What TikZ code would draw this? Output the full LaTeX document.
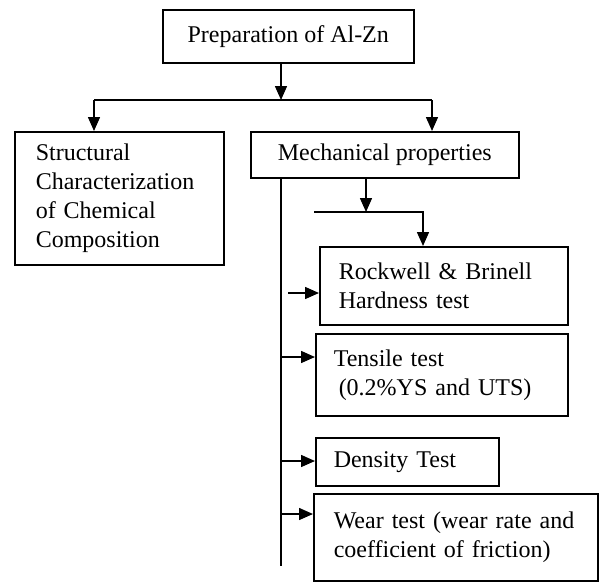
\documentclass[tikz,border=0pt]{standalone}
\usepackage{fontspec}
\setmainfont{Liberation Serif}
\usetikzlibrary{arrows.meta}
\begin{document}
\begin{tikzpicture}[x=1pt,y=-1pt]
\tikzset{
  box/.style={draw, line width=1.5pt, inner ysep=0pt, anchor=north west, font=\fontsize{24}{29}\selectfont},
  lbox/.style={box, align=left},
  arr/.style={-{Triangle[length=14pt,width=12pt]}, line width=1.5pt},
  ln/.style={line width=1.5pt}
}
\useasboundingbox (0,0) rectangle (601,581);
% boxes
\node[box, minimum width=251pt, minimum height=53pt] (top) at (162,9) {Preparation of Al-Zn};
\node[lbox, minimum width=209pt, minimum height=133pt, text width=167pt, inner xsep=21pt] (left) at (14,131)
  {Structural\\Characterization\\of Chemical\\Composition};
\node[box, minimum width=268pt, minimum height=46pt] (mech) at (250,131) {Mechanical properties};
\node[lbox, minimum width=248pt, minimum height=78pt, text width=210pt, inner xsep=19pt] (rock) at (319,246)
  {Rockwell \& Brinell\\Hardness test};
\node[lbox, minimum width=252pt, minimum height=82pt, text width=216pt, inner xsep=18pt] (tens) at (315,333)
  {Tensile test\\\hspace*{5pt}(0.2\%YS and UTS)};
\node[lbox, minimum width=183pt, minimum height=48pt, text width=147pt, inner xsep=18pt] (dens) at (315,437)
  {Density Test};
\node[lbox, minimum width=284pt, minimum height=87pt, text width=244pt, inner xsep=20pt] (wear) at (313,493)
  {Wear test (wear rate and\\coefficient of friction)\\[-4pt]};
% junction coordinates
\coordinate (j1) at (281,100);
\coordinate (jl) at (94,100);
\coordinate (jr) at (432,100);
\coordinate (vend) at (281,566);
\coordinate (j2) at (366,212);
\coordinate (j2l) at (314,212);
\coordinate (j2r) at (423,212);
\coordinate (ra) at (288,293);
\coordinate (ta) at (281,357);
\coordinate (da) at (281,461);
\coordinate (wa) at (281,514);
% connectors
\draw[arr] (top.south -| j1) -- (j1);
\draw[ln] (jl) -- (jr);
\draw[arr] (jl) -- (left.north -| jl);
\draw[arr] (jr) -- (mech.north -| jr);
\draw[ln] (mech.south -| vend) -- (vend);
\draw[arr] (mech.south -| j2) -- (j2);
\draw[arr] (j2l) -- (j2r) -- (rock.north -| j2r);
\draw[arr] (ra) -- (rock.west |- ra);
\draw[arr] (ta) -- (tens.west |- ta);
\draw[arr] (da) -- (dens.west |- da);
\draw[arr] (wa) -- (wear.west |- wa);
\end{tikzpicture}
\end{document}
